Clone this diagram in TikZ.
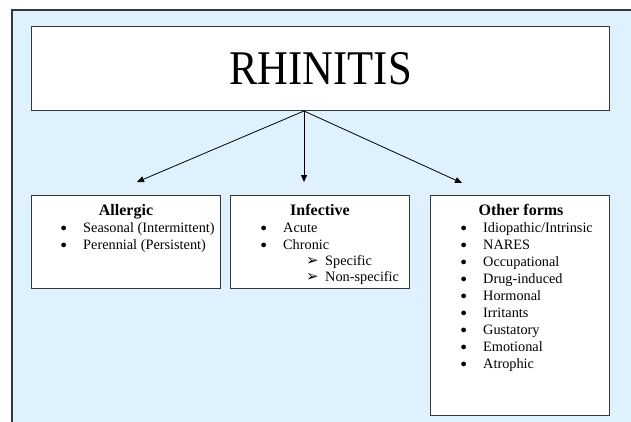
\documentclass[tikz,border=0pt]{standalone}
\usepackage{fontspec}
\setmainfont{Liberation Serif}
\newfontfamily\symfont{DejaVu Sans}
\usetikzlibrary{arrows.meta,calc}
\definecolor{bgblue}{RGB}{223,241,252}
\definecolor{edgegray}{RGB}{55,55,55}
\newcommand{\arr}{\makebox[19pt][l]{\raisebox{0pt}[0pt][0pt]{\symfont\fontsize{15}{15}\selectfont ➢}}}
% bullet item: name, bullet-left x, baseline y, text
\newcommand{\bitem}[4]{%
  \fill[black] (#2+2.6,#3-4.6) circle (2.4pt);
  \node[itm] (#1) at (#2+22,#3) {#4};}
\begin{document}
\begin{tikzpicture}[x=1pt,y=-1pt,
  box/.style={draw=edgegray,fill=white,line width=1pt,anchor=north west,inner sep=0pt},
  ttl/.style={font=\fontsize{16}{19}\selectfont\bfseries,anchor=base,inner sep=0pt},
  itm/.style={font=\fontsize{14.3}{17}\selectfont,anchor=base west,inner sep=0pt},
  conn/.style={draw=black,line width=0.8pt,-{Triangle[length=7pt,width=6pt]}}]
\useasboundingbox (0,0) rectangle (631,421);
\begin{scope}
\clip (0,0) rectangle (631,421);
\fill[bgblue,draw=edgegray,line width=1.2pt] (12,10) rectangle (660,450);
\end{scope}
% top box
\node[box,minimum width=578pt,minimum height=84pt,font=\fontsize{44}{44}\selectfont] (rh) at (31,26) {\scalebox{0.97}[1.1]{RHINITIS}};
% category boxes
\node[box,minimum width=189pt,minimum height=93pt] (al) at (31,195) {};
\node[box,minimum width=179pt,minimum height=93pt] (inf) at (230,195) {};
\node[box,minimum width=179pt,minimum height=220pt] (oth) at (430,195) {};
% connectors
\coordinate (o) at ($(rh.south west)+(273,0)$);
\coordinate (ta) at (137,182);
\coordinate (tb) at (304,182);
\coordinate (tc) at (462,183);
\draw[conn] (o) -- (ta);
\draw[conn] (o) -- (tb);
\draw[conn] (o) -- (tc);
% Allergic
\node[ttl] (alt) at (126,215) {Allergic};
\bitem{al1}{61}{232.5}{Seasonal (Intermittent)}
\bitem{al2}{61}{249.5}{Perennial (Persistent)}
% Infective
\node[ttl] (inft) at (320,215) {Infective};
\bitem{in1}{261}{232.5}{Acute}
\bitem{in2}{261}{249.5}{Chronic}
\node[itm] (in3) at (306,265.5) {\arr Specific};
\node[itm] (in4) at (306,281.5) {\arr Non-specific};
% Other forms
\node[ttl] (otht) at (521,215) {Other forms};
\foreach \t [count=\i from 0] in {Idiopathic/Intrinsic,NARES,Occupational,Drug-induced,Hormonal,Irritants,Gustatory,Emotional,Atrophic}{
  \bitem{ot\i}{461}{232.5+17*\i}{\t}
}
\end{tikzpicture}
\end{document}
